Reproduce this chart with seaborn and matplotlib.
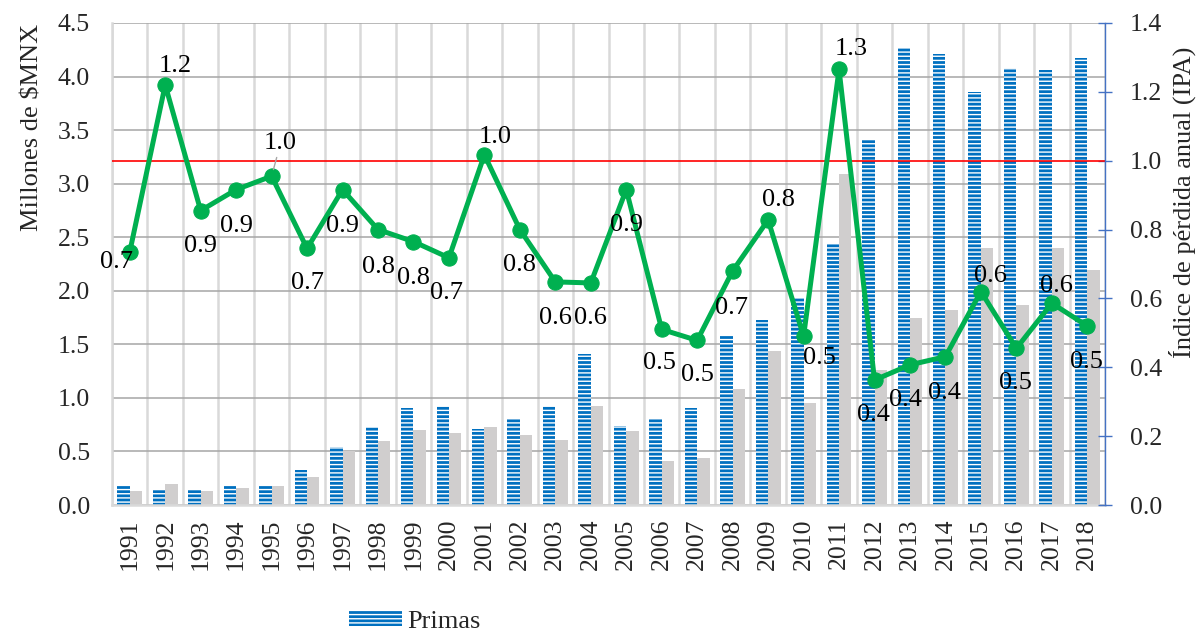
import numpy as np
import pandas as pd
import matplotlib
matplotlib.use('Agg')
import matplotlib.pyplot as plt
import matplotlib.patches as mpatches
import seaborn as sns

# ---- datos ----
years = [str(y) for y in range(1991, 2019)]

# Primas (millones de $MNX), barras azules rayadas
primas = [0.175, 0.14, 0.14, 0.175, 0.175, 0.325, 0.54, 0.73, 0.91, 0.92,
          0.71, 0.80, 0.92, 1.41, 0.735, 0.80, 0.905, 1.59, 1.73, 1.93,
          2.44, 3.42, 4.27, 4.21, 3.86, 4.08, 4.06, 4.17]

# Siniestros (millones de $MNX), barras grises
siniestros = [0.135, 0.20, 0.135, 0.163, 0.18, 0.26, 0.50, 0.595, 0.70, 0.675,
              0.73, 0.65, 0.61, 0.92, 0.69, 0.415, 0.44, 1.08, 1.44, 0.95,
              3.09, 1.26, 1.75, 1.82, 2.40, 1.87, 2.40, 2.19]

# Índice de pérdida anual (eje derecho)
ipa = [0.735, 1.22, 0.855, 0.916, 0.955, 0.745, 0.916, 0.80, 0.765, 0.718,
       1.017, 0.80, 0.648, 0.645, 0.916, 0.51, 0.478, 0.68, 0.828, 0.49,
       1.265, 0.363, 0.407, 0.431, 0.62, 0.455, 0.586, 0.52]

# desplazamiento de cada etiqueta (px, y hacia arriba)
label_offsets = [(-13, -10), (10, 19), (0, -35), (0, -36), (9, 33), (0, -35),
                 (0, -36), (0, -37), (0, -36), (-2, -35), (11, 18), (0, -35),
                 (0, -36), (0, -35), (0, -35), (-2, -34), (0, -35), (-1, -37),
                 (10, 20), (16, -22), (12, 20), (-1, -35), (-5, -35), (-1, -36),
                 (10, 16), (-1, -35), (5, 17), (-1, -36)]

BLUE = '#0070C0'
GRAY = '#D0CECE'
GREEN = '#00B050'
AXBLUE = '#4472C4'
FS = 19
TS = 18.5

sns.set_style('white')
plt.rcParams['font.family'] = ['Liberation Serif', 'DejaVu Serif']
plt.rcParams['hatch.linewidth'] = 1.0

df = pd.DataFrame({
    'Año': years * 2,
    'Serie': ['Primas'] * len(years) + ['Siniestros'] * len(years),
    'Valor': primas + siniestros,
})

fig = plt.figure(figsize=(11.98, 6.33), dpi=100)
ax = fig.add_axes([0.0935, 0.2022, 0.8289, 0.7615])

sns.barplot(data=df, x='Año', y='Valor', hue='Serie', palette=[BLUE, GRAY],
            width=0.7, gap=0, saturation=1, errorbar=None, legend=False, ax=ax)

# rayado horizontal en las barras de primas
for bar in ax.containers[0]:
    bar.set_hatch('----')
    bar.set_edgecolor('white')
    bar.set_linewidth(0)
for bar in ax.containers[1]:
    bar.set_linewidth(0)

ax.set_xlim(-0.5, len(years) - 0.5)
ax.set_ylim(0, 4.5)
ax.set_yticks(np.arange(0, 4.51, 0.5))
ax.set_yticklabels([f'{v:.1f}' for v in np.arange(0, 4.51, 0.5)])
ax.set_xticks(np.arange(-0.5, len(years), 1), minor=True)
ax.set_axisbelow(True)
ax.yaxis.grid(True, color='#A6A6A6', lw=1.1)
ax.xaxis.grid(True, which='minor', color='#D9D9D9', lw=1.8)
ax.xaxis.grid(False, which='major')
ax.tick_params(axis='x', which='both', length=0, pad=10, labelsize=TS, rotation=90)
ax.tick_params(axis='y', length=0, pad=16, labelsize=TS)
ax.set_xlabel('')
ax.set_ylabel(r'Millones de \$MNX', fontsize=FS)
ax.yaxis.set_label_coords(-0.069, 0.784)
for s in ['top', 'right']:
    ax.spines[s].set_visible(False)
for s in ['left', 'bottom']:
    ax.spines[s].set_color('#D9D9D9')
    ax.spines[s].set_linewidth(1.8)

# eje derecho: IPA
ax2 = ax.twinx()
ax2.axhline(1.0, color='red', lw=1.2, zorder=1)
sns.lineplot(x=np.arange(len(years)), y=ipa, ax=ax2, color=GREEN, lw=3.6,
             marker='o', markersize=11, markeredgecolor=GREEN, zorder=3)
ax2.set_xlim(-0.5, len(years) - 0.5)
ax2.set_ylim(0, 1.4)
ax2.set_yticks(np.arange(0, 1.41, 0.2))
ax2.set_yticklabels([f'{v:.1f}' for v in np.arange(0, 1.41, 0.2)])
ax2.tick_params(axis='y', direction='inout', length=10, width=1, color=AXBLUE,
                pad=13, labelsize=TS)
for s in ['top', 'left', 'bottom']:
    ax2.spines[s].set_visible(False)
ax2.spines['right'].set_color(AXBLUE)
ax2.spines['right'].set_linewidth(1)
ax2.set_ylabel('Índice de pérdida anual (IPA)', fontsize=FS)
ax2.yaxis.set_label_coords(1.064, 0.627)

for i, v in enumerate(ipa):
    arrow = dict(arrowstyle='-', color='#A6A6A6', lw=1, shrinkA=0, shrinkB=5) if i == 4 else None
    ax2.annotate(f'{v:.1f}', (i, v), xytext=label_offsets[i], textcoords='offset pixels',
                 ha='center', va='center', fontsize=FS, color='black', zorder=5,
                 arrowprops=arrow)

handle = mpatches.Patch(facecolor=BLUE, edgecolor='white', hatch='----', lw=0, label='Primas')
fig.legend(handles=[handle], loc='center', bbox_to_anchor=(0.346, 0.017), frameon=False,
           fontsize=FS, handlelength=2, handleheight=0.5, handletextpad=0.2)

fig.savefig('out.png', dpi=100)
